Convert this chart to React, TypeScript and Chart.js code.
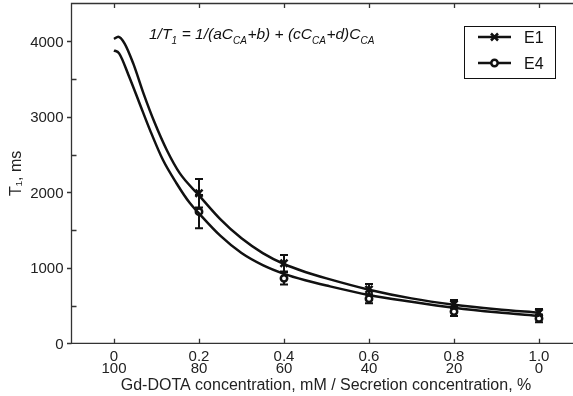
import { useEffect, useRef } from 'react';
import { Chart, registerables } from 'chart.js';

Chart.register(...registerables);

// ---- data ----
const xTickValues = [0, 0.2, 0.4, 0.6, 0.8, 1.0];
const xTickLabelsMM = ['0', '0.2', '0.4', '0.6', '0.8', '1.0'];
const xTickLabelsPct = ['100', '80', '60', '40', '20', '0'];
const yTickValues = [0, 1000, 2000, 3000, 4000];
const yTickLabels = ['0', '1000', '2000', '3000', '4000'];
const yMinorTickValues = [500, 1500, 2500, 3500];

const measX = [0.2, 0.4, 0.6, 0.8, 1.0];
const e1Values = [1987, 1060, 715, 520, 405];
const e1Errors = [190, 110, 70, 55, 50];
const e4Values = [1743, 860, 590, 420, 330];
const e4Errors = [220, 80, 60, 60, 50];

const fitXE1 = [0, 0.01, 0.025, 0.045, 0.07, 0.095, 0.125, 0.155, 0.2, 0.25, 0.3, 0.35, 0.4, 0.45, 0.5, 0.6, 0.7, 0.8, 0.9, 1.0];
const fitYE1 = [4030, 4060, 3970, 3710, 3300, 2930, 2550, 2250, 1960, 1645, 1390, 1195, 1050, 945, 860, 710, 595, 512, 452, 405];
const fitXE4 = [0, 0.012, 0.035, 0.06, 0.085, 0.115, 0.147, 0.178, 0.2, 0.25, 0.3, 0.35, 0.4, 0.45, 0.5, 0.6, 0.7, 0.8, 0.9, 1.0];
const fitYE4 = [3880, 3840, 3540, 3180, 2820, 2430, 2120, 1860, 1720, 1425, 1195, 1035, 920, 835, 765, 640, 550, 470, 410, 365];

const seriesNames = ['E1', 'E4'];
const xTitle = 'Gd-DOTA concentration, mM / Secretion concentration, %';
const yTitle = 'T\u2081, ms';

const FONT = '"Liberation Sans", Arial, Helvetica, sans-serif';
const INK = '#111';
const TEXT = '#222';
const AXIS = '#333';

function drawCross(ctx: CanvasRenderingContext2D, x: number, y: number, r: number) {
  ctx.beginPath();
  ctx.moveTo(x - r, y - r);
  ctx.lineTo(x + r, y + r);
  ctx.moveTo(x - r, y + r);
  ctx.lineTo(x + r, y - r);
  ctx.stroke();
}
function drawCircle(ctx: CanvasRenderingContext2D, x: number, y: number, r: number) {
  ctx.beginPath();
  ctx.arc(x, y, r, 0, Math.PI * 2);
  ctx.fillStyle = '#fff';
  ctx.fill();
  ctx.stroke();
}

const decorPlugin = {
  id: 'decor',
  beforeDatasetsDraw(chart: any) {
    const ctx: CanvasRenderingContext2D = chart.ctx;
    const xs = chart.scales.x;
    const ys = chart.scales.y;
    const ca = chart.chartArea;
    ctx.save();
    ctx.strokeStyle = AXIS;
    ctx.lineWidth = 1.3;
    ctx.beginPath();
    ctx.moveTo(ca.right + 2, ca.top);
    ctx.lineTo(ca.left, ca.top);
    ctx.lineTo(ca.left, ca.bottom);
    ctx.lineTo(ca.right + 2, ca.bottom);
    ctx.stroke();
    ctx.beginPath();
    xTickValues.forEach((v) => {
      const px = Math.round(xs.getPixelForValue(v)) + 0.5;
      ctx.moveTo(px, ca.bottom);
      ctx.lineTo(px, ca.bottom - 4.5);
      ctx.moveTo(px, ca.top);
      ctx.lineTo(px, ca.top + 4.5);
    });
    yTickValues.forEach((v) => {
      const py = Math.round(ys.getPixelForValue(v)) + 0.5;
      ctx.moveTo(ca.left, py);
      ctx.lineTo(ca.left - 4.5, py);
    });
    yMinorTickValues.forEach((v) => {
      const py = Math.round(ys.getPixelForValue(v)) + 0.5;
      ctx.moveTo(ca.left, py);
      ctx.lineTo(ca.left + 5, py);
    });
    ctx.stroke();

    ctx.fillStyle = TEXT;
    ctx.font = `15px ${FONT}`;
    ctx.textBaseline = 'alphabetic';
    ctx.textAlign = 'right';
    yTickValues.forEach((v, i) => {
      const py = ys.getPixelForValue(v);
      ctx.fillText(yTickLabels[i], ca.left - 8, py + 5.3);
    });
    ctx.textAlign = 'center';
    xTickValues.forEach((v, i) => {
      const px = xs.getPixelForValue(v);
      ctx.fillText(xTickLabelsMM[i], px, ca.bottom + 17.5);
      ctx.fillText(xTickLabelsPct[i], px, ca.bottom + 29.5);
    });
    ctx.font = `16px ${FONT}`;
    ctx.fillText(xTitle, 326, 389.5);
    ctx.save();
    ctx.translate(20.5, (ca.top + ca.bottom) / 2);
    ctx.rotate(-Math.PI / 2);
    ctx.fillText(yTitle, 0, 0);
    ctx.restore();

    ctx.strokeStyle = INK;
    ctx.lineWidth = 2;
    const bars = (vals: number[], errs: number[]) => {
      vals.forEach((v, i) => {
        const px = xs.getPixelForValue(measX[i]);
        const pt = ys.getPixelForValue(v + errs[i]);
        const pb = ys.getPixelForValue(v - errs[i]);
        ctx.beginPath();
        ctx.moveTo(px, pt);
        ctx.lineTo(px, pb);
        ctx.moveTo(px - 4, pt);
        ctx.lineTo(px + 4, pt);
        ctx.moveTo(px - 4, pb);
        ctx.lineTo(px + 4, pb);
        ctx.stroke();
      });
    };
    bars(e1Values, e1Errors);
    bars(e4Values, e4Errors);
    ctx.restore();
  },
  afterDatasetsDraw(chart: any) {
    const ctx: CanvasRenderingContext2D = chart.ctx;
    ctx.save();
    ctx.fillStyle = INK;
    ctx.textBaseline = 'alphabetic';
    ctx.textAlign = 'left';
    const big = `italic 15.5px ${FONT}`;
    const small = `italic 10px ${FONT}`;
    const parts: [string, boolean][] = [
      ['1/T', false], ['1', true], [' = 1/(aC', false], ['CA', true], ['+b) + (cC', false],
      ['CA', true], ['+d)C', false], ['CA', true],
    ];
    let x = 149;
    const base = 38.5;
    parts.forEach(([t, sub]) => {
      ctx.font = sub ? small : big;
      ctx.fillText(t, x, sub ? base + 5 : base);
      x += ctx.measureText(t).width + (sub ? 0.5 : 0);
    });

    const lx = 464.5, ly = 26.5, lw = 91, lh = 52;
    ctx.strokeStyle = INK;
    ctx.lineWidth = 1;
    ctx.strokeRect(lx, ly, lw, lh);
    ctx.lineWidth = 2.5;
    ctx.font = `16px ${FONT}`;
    const rows = [37, 63];
    rows.forEach((ry, i) => {
      ctx.strokeStyle = INK;
      ctx.beginPath();
      ctx.moveTo(478, ry);
      ctx.lineTo(511, ry);
      ctx.stroke();
      if (i === 0) drawCross(ctx, 494.5, ry, 3.5);
      else drawCircle(ctx, 494.5, ry, 3.2);
      ctx.fillStyle = INK;
      ctx.fillText(seriesNames[i], 524, ry + 5.5);
    });
    ctx.restore();
  },
};

export default function App() {
  const ref = useRef<HTMLCanvasElement>(null);
  useEffect(() => {
    if (!ref.current) return;
    const chart = new Chart(ref.current, {
      type: 'line',
      data: {
        datasets: [
          {
            label: 'E1 fit',
            data: fitXE1.map((x, i) => ({ x, y: fitYE1[i] })),
            borderColor: INK,
            borderWidth: 2.5,
            pointRadius: 0,
            cubicInterpolationMode: 'monotone',
            fill: false,
          },
          {
            label: 'E4 fit',
            data: fitXE4.map((x, i) => ({ x, y: fitYE4[i] })),
            borderColor: INK,
            borderWidth: 2.5,
            pointRadius: 0,
            cubicInterpolationMode: 'monotone',
            fill: false,
          },
          {
            label: seriesNames[0],
            data: measX.map((x, i) => ({ x, y: e1Values[i] })),
            showLine: false,
            pointStyle: 'crossRot',
            pointRadius: 5,
            borderColor: INK,
            borderWidth: 2.5,
          },
          {
            label: seriesNames[1],
            data: measX.map((x, i) => ({ x, y: e4Values[i] })),
            showLine: false,
            pointStyle: 'circle',
            pointRadius: 3.2,
            backgroundColor: '#fff',
            borderColor: INK,
            borderWidth: 2.5,
          },
        ],
      },
      options: {
        responsive: false,
        animation: false,
        layout: { autoPadding: false, padding: { left: 71.5, top: 3.5, right: 0, bottom: 52.7 } },
        plugins: { legend: { display: false }, tooltip: { enabled: false } },
        scales: {
          x: { type: 'linear', min: -0.1, max: 1.08, display: false },
          y: { type: 'linear', min: 0, max: 4500, display: false },
        },
      },
      plugins: [decorPlugin],
    } as any);
    return () => chart.destroy();
  }, []);
  return (
    <div style={{ position: 'absolute', left: 0, top: 0, width: 573, height: 396, background: '#fff' }}>
      <canvas ref={ref} width={573} height={396} style={{ display: 'block' }} />
    </div>
  );
}
